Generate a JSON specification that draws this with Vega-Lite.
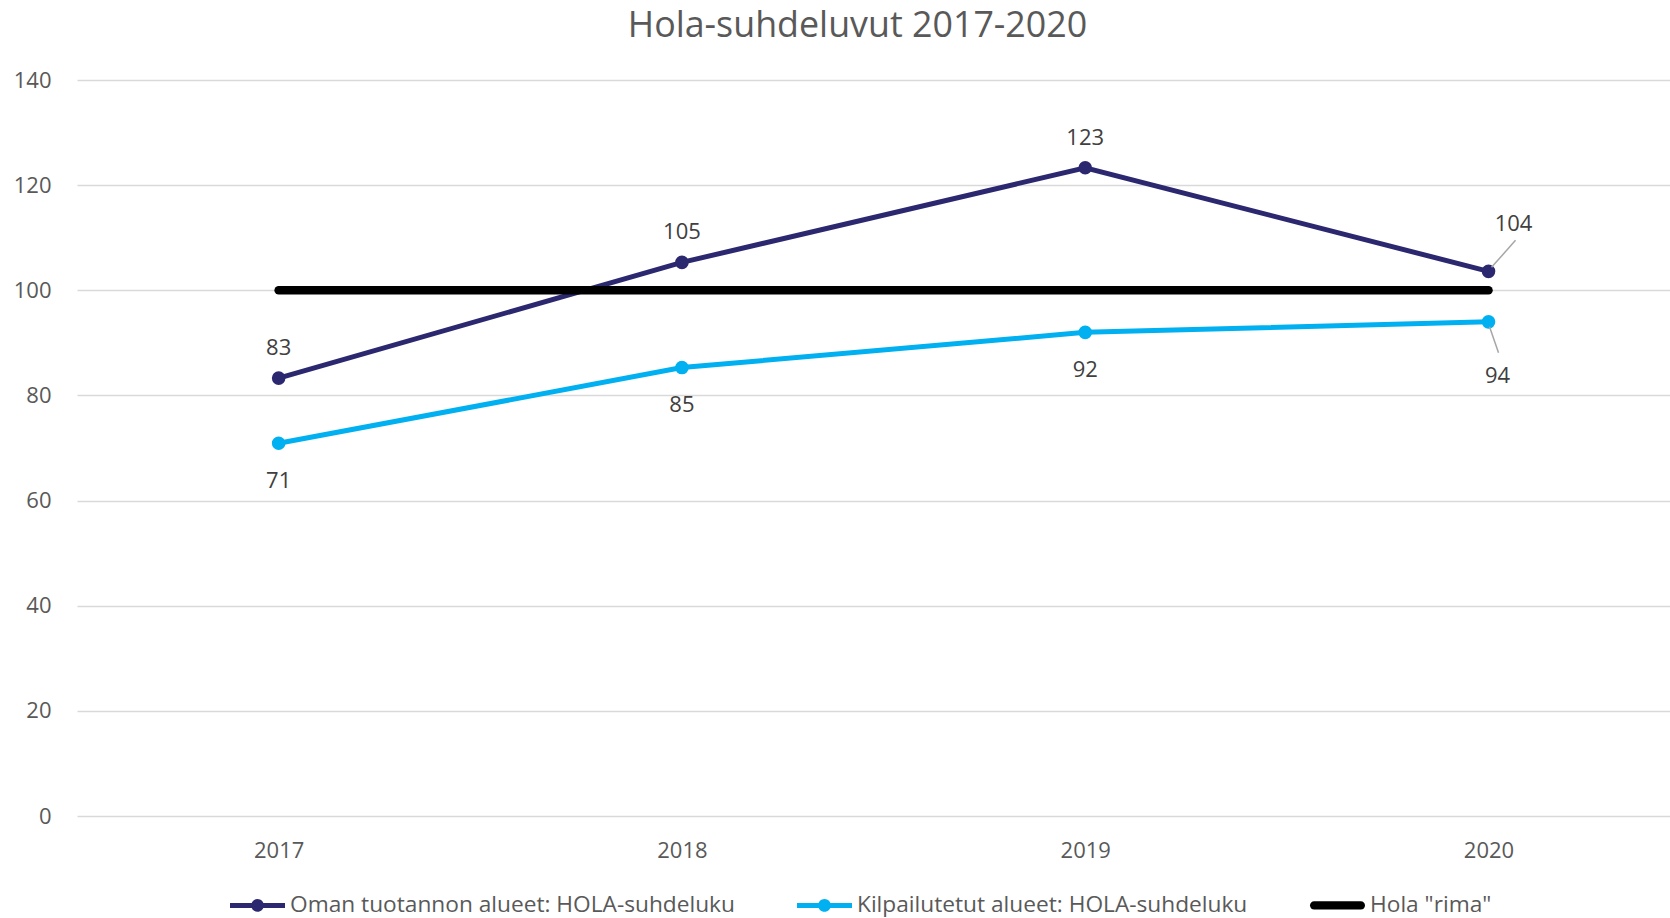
{
  "$schema": "https://vega.github.io/schema/vega-lite/v6.json",
  "width": 1593,
  "height": 736,
  "autosize": {"type": "none"},
  "padding": {"left": 77, "top": 80, "right": 0, "bottom": 102},
  "background": "white",
  "title": {"text": "Hola-suhdeluvut 2017-2020", "fontSize": 35.8, "font": "Open Sans", "fontWeight": "normal", "color": "#595959", "offset": 24, "dx": -16, "anchor": "middle"},
  "config": {"view": {"stroke": null}, "font": "Open Sans"},
  "data": {"values": [
    {"year": 2017, "series": "Oman tuotannon alueet: HOLA-suhdeluku", "value": 83.3},
    {"year": 2018, "series": "Oman tuotannon alueet: HOLA-suhdeluku", "value": 105.3},
    {"year": 2019, "series": "Oman tuotannon alueet: HOLA-suhdeluku", "value": 123.3},
    {"year": 2020, "series": "Oman tuotannon alueet: HOLA-suhdeluku", "value": 103.6},
    {"year": 2017, "series": "Kilpailutetut alueet: HOLA-suhdeluku", "value": 70.9},
    {"year": 2018, "series": "Kilpailutetut alueet: HOLA-suhdeluku", "value": 85.3},
    {"year": 2019, "series": "Kilpailutetut alueet: HOLA-suhdeluku", "value": 92.0},
    {"year": 2020, "series": "Kilpailutetut alueet: HOLA-suhdeluku", "value": 94.0},
    {"year": 2017, "series": "Hola \"rima\"", "value": 100},
    {"year": 2018, "series": "Hola \"rima\"", "value": 100},
    {"year": 2019, "series": "Hola \"rima\"", "value": 100},
    {"year": 2020, "series": "Hola \"rima\"", "value": 100}
  ]},
  "encoding": {
    "x": {"field": "year", "type": "quantitative",
      "scale": {"domain": [2016.5, 2020.45], "nice": false, "zero": false},
      "axis": {"values": [2017, 2018, 2019, 2020], "format": "d", "title": null, "grid": false, "domain": false, "ticks": false, "tickSize": 0, "labelFontSize": 22, "labelColor": "#595959", "labelPadding": 24, "labelFont": "Open Sans"}},
    "y": {"field": "value", "type": "quantitative",
      "scale": {"domain": [0, 140], "nice": false},
      "axis": {"values": [0, 20, 40, 60, 80, 100, 120, 140], "title": null, "domain": false, "ticks": false, "tickSize": 0, "gridColor": "#d9d9d9", "gridWidth": 1.5, "labelFontSize": 22, "labelColor": "#595959", "labelPadding": 26, "labelFont": "Open Sans"}}
  },
  "layer": [
    {
      "transform": [{"filter": "indexof(datum.series, 'rima') < 0"}],
      "mark": {"type": "line", "strokeWidth": 5},
      "encoding": {
        "color": {"field": "series", "type": "nominal",
          "scale": {"domain": ["Oman tuotannon alueet: HOLA-suhdeluku", "Kilpailutetut alueet: HOLA-suhdeluku", "Hola \"rima\""], "range": ["#2b2870", "#00b0f0", "#000000"]},
          "legend": {"orient": "none", "legendX": 153, "legendY": 797.5, "direction": "horizontal", "columns": 3, "title": null,
            "labelFontSize": 22.7, "labelColor": "#595959", "labelFont": "Open Sans", "labelLimit": 0,
            "symbolSize": 3025, "labelOffset": 5, "columnPadding": 62, "padding": 0, "symbolStrokeWidth": 0,
            "encode": {"symbols": {"update": {
              "shape": {"signal": "indexof(datum.value, 'rima') >= 0 ? 'M-0.85,-0.15H0.85A0.15,0.15 0 1,1 0.85,0.15H-0.85A0.15,0.15 0 1,1 -0.85,-0.15Z' : 'M-1,-0.09H1V0.09H-1Z M-0.23,0A0.23,0.23 0 1,1 0.23,0A0.23,0.23 0 1,1 -0.23,0Z'"},
              "fill": {"scale": "color", "field": "value"},
              "stroke": {"value": "transparent"},
              "strokeWidth": {"value": 0},
              "opacity": {"value": 1}
            }}}}
        }
      }
    },
    {
      "transform": [{"filter": "indexof(datum.series, 'rima') >= 0"}],
      "mark": {"type": "line", "strokeWidth": 8.5, "strokeCap": "round"},
      "encoding": {"color": {"field": "series", "type": "nominal"}}
    },
    {
      "transform": [{"filter": "indexof(datum.series, 'rima') < 0"}],
      "mark": {"type": "point", "filled": true, "size": 185, "opacity": 1},
      "encoding": {"color": {"field": "series", "type": "nominal"}}
    },
    {
      "transform": [{"filter": "indexof(datum.series, 'Oman') >= 0 && datum.year < 2020"}],
      "mark": {"type": "text", "fontSize": 22, "color": "#404040", "font": "Open Sans", "baseline": "middle", "dy": -30},
      "encoding": {"text": {"field": "value", "type": "quantitative", "format": ".0f"}}
    },
    {
      "transform": [{"filter": "indexof(datum.series, 'Kilpailutetut') >= 0 && datum.year < 2020"}],
      "mark": {"type": "text", "fontSize": 22, "color": "#404040", "font": "Open Sans", "baseline": "middle", "dy": 37.5},
      "encoding": {"text": {"field": "value", "type": "quantitative", "format": ".0f"}}
    },
    {
      "transform": [{"filter": "indexof(datum.series, 'Oman') >= 0 && datum.year == 2020"}],
      "mark": {"type": "text", "fontSize": 22, "color": "#404040", "font": "Open Sans", "baseline": "middle", "dx": 25, "dy": -47},
      "encoding": {"text": {"field": "value", "type": "quantitative", "format": ".0f"}}
    },
    {
      "transform": [{"filter": "indexof(datum.series, 'Kilpailutetut') >= 0 && datum.year == 2020"}],
      "mark": {"type": "text", "fontSize": 22, "color": "#404040", "font": "Open Sans", "baseline": "middle", "dx": 9, "dy": 54},
      "encoding": {"text": {"field": "value", "type": "quantitative", "format": ".0f"}}
    },
    {
      "transform": [{"filter": "indexof(datum.series, 'Oman') >= 0 && datum.year == 2020"}],
      "mark": {"type": "rule", "color": "#a6a6a6", "strokeWidth": 1.5, "xOffset": 3, "yOffset": -4, "x2Offset": 27, "y2Offset": -31},
      "encoding": {"x2": {"field": "year"}, "y2": {"field": "value"}}
    },
    {
      "transform": [{"filter": "indexof(datum.series, 'Kilpailutetut') >= 0 && datum.year == 2020"}],
      "mark": {"type": "rule", "color": "#a6a6a6", "strokeWidth": 1.5, "xOffset": 1, "yOffset": 5, "x2Offset": 10, "y2Offset": 31},
      "encoding": {"x2": {"field": "year"}, "y2": {"field": "value"}}
    }
  ]
}
